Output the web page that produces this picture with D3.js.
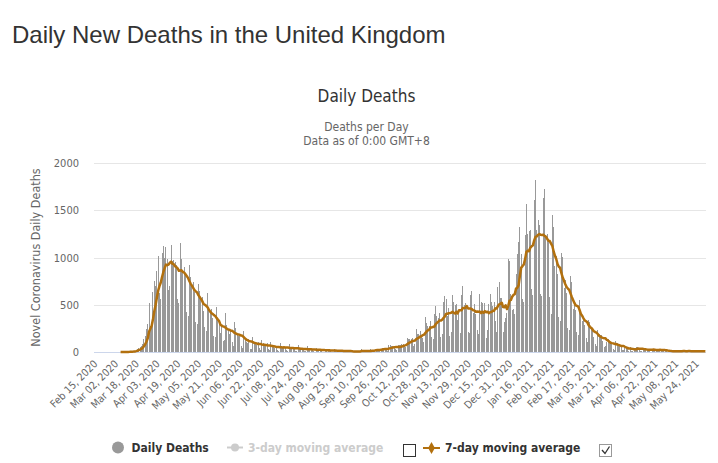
<!DOCTYPE html>
<html>
<head>
  <meta charset="utf-8">
  <title>Daily New Deaths in the United Kingdom</title>
  <style>
    body {
      margin: 0;
      padding: 0;
      background: #ffffff;
    }
    .page-title {
      font-family: 'Liberation Sans', Arial, sans-serif;
      font-size: 24px;
      fill: #333333;
    }
    .hc text {
      font-family: 'DejaVu Sans Condensed', 'DejaVu Sans', sans-serif;
      font-stretch: condensed;
    }
    .grid line {
      stroke: #e6e6e6;
    }
    .axis text {
      fill: #666666;
      font-size: 11px;
    }
    .bar {
      fill: #999999;
      shape-rendering: crispEdges;
    }
    .avg7 {
      fill: none;
      stroke: #b2700e;
      stroke-width: 2.5;
      stroke-linejoin: round;
    }
    .legend text {
      font-size: 12px;
      font-weight: bold;
    }
  </style>
</head>
<body>
  <div id="chart"></div>

  <script src="https://d3js.org/d3.v7.min.js"></script>
  <script>

  // daily deaths from Feb 15, 2020 to May 31, 2021, one row per week (Sat..Fri)
  var dailyDeaths = [
    0, 0, 0, 0, 0, 0, 0,
    0, 0, 0, 0, 0, 0, 0,
    0, 0, 0, 0, 0, 0, 1,
    1, 1, 1, 2, 2, 1, 2,
    5, 8, 10, 15, 25, 30, 40,
    50, 60, 80, 140, 170, 240, 300,
    520, 280, 290, 640, 750, 700, 860,
    1020, 620, 560, 1050, 1120, 990, 1110,
    980, 660, 700, 1130, 960, 970, 950,
    920, 560, 520, 1150, 980, 860, 900,
    800, 420, 380, 920, 790, 700, 740,
    640, 320, 300, 720, 650, 560, 580,
    430, 260, 220, 620, 480, 420, 460,
    360, 170, 160, 480, 360, 300, 200,
    280, 120, 130, 410, 290, 230, 190,
    210, 110, 60, 320, 250, 180, 170,
    180, 60, 40, 220, 150, 110, 100,
    140, 35, 30, 160, 110, 80, 70,
    110, 40, 20, 130, 90, 70, 60,
    90, 30, 20, 110, 70, 50, 40,
    60, 20, 15, 100, 60, 40, 50,
    50, 20, 10, 80, 50, 45, 40,
    40, 15, 10, 70, 40, 30, 30,
    30, 10, 8, 60, 35, 30, 25,
    25, 8, 5, 45, 30, 25, 20,
    20, 5, 4, 35, 25, 20, 15,
    15, 5, 3, 30, 15, 12, 10,
    12, 5, 3, 20, 12, 10, 10,
    12, 1, 1, 3, 3, 12, 10,
    12, 2, 3, 32, 8, 14, 6,
    9, 5, 9, 27, 20, 21, 21,
    27, 18, 11, 37, 37, 40, 40,
    34, 17, 13, 71, 71, 59, 66,
    49, 33, 19, 76, 70, 77, 87,
    81, 65, 50, 143, 137, 138, 136,
    150, 67, 80, 241, 191, 189, 224,
    174, 151, 102, 367, 310, 280, 274,
    326, 162, 136, 397, 492, 378, 355,
    413, 156, 194, 532, 595, 563, 376,
    462, 168, 213, 598, 529, 501, 511,
    341, 398, 206, 608, 696, 498, 521,
    479, 215, 205, 603, 648, 414, 504,
    397, 231, 189, 616, 533, 516, 424,
    519, 144, 232, 506, 612, 532, 489,
    534, 326, 215, 691, 744, 570, 570,
    210, 316, 357, 414, 981, 964, 613,
    445, 454, 407, 830, 1041, 1162, 1325,
    1035, 563, 529, 1243, 1564, 1248, 1280,
    1295, 671, 599, 1610, 1820, 1290, 1401,
    1348, 610, 592, 1631, 1725, 1239, 1245,
    1200, 587, 406, 1449, 1322, 915, 1014,
    828, 373, 333, 1052, 1001, 678, 758,
    621, 258, 230, 799, 738, 454, 533,
    445, 215, 178, 548, 442, 323, 345,
    290, 144, 104, 343, 315, 242, 236,
    158, 82, 65, 231, 190, 181, 175,
    121, 52, 64, 110, 141, 95, 101,
    96, 33, 17, 112, 98, 70, 63,
    58, 19, 23, 56, 45, 43, 10,
    58, 10, 9, 26, 45, 53, 52,
    40, 7, 13, 23, 22, 39, 34,
    32, 10, 4, 33, 29, 22, 18,
    32, 17, 11, 17, 29, 18, 15,
    15, 1, 1, 4, 13, 13, 6,
    10, 6, 4, 11, 9, 11, 17,
    7, 4, 3, 15, 9, 7, 10,
    4, 4, 6, 14, 9, 10, 10,
    6, 6, 1
  ]

  // x axis labels, one every 16 days starting at the first category
  var tickLabels = [
    "Feb 15, 2020", "Mar 02, 2020", "Mar 18, 2020", "Apr 03, 2020", "Apr 19, 2020",
    "May 05, 2020", "May 21, 2020", "Jun 06, 2020", "Jun 22, 2020", "Jul 08, 2020",
    "Jul 24, 2020", "Aug 09, 2020", "Aug 25, 2020", "Sep 10, 2020", "Sep 26, 2020",
    "Oct 12, 2020", "Oct 28, 2020", "Nov 13, 2020", "Nov 29, 2020", "Dec 15, 2020",
    "Dec 31, 2020", "Jan 16, 2021", "Feb 01, 2021", "Feb 17, 2021", "Mar 05, 2021",
    "Mar 21, 2021", "Apr 06, 2021", "Apr 22, 2021", "May 08, 2021", "May 24, 2021"
  ]

  var yTicks = [0, 500, 1000, 1500, 2000]

  // 7-day moving average (trailing), starting where reporting begins
  var avg7 = dailyDeaths.map(function (v, i) {
    if (i < 20) return null
    return d3.mean(dailyDeaths.slice(Math.max(0, i - 6), i + 1))
  })

  var width = 718,
      height = 463

  var plot = { left: 94, right: 706, top: 163, bottom: 352 }

  var svg = d3.select("#chart")
    .append("svg")
    .attr("width", width)
    .attr("height", height)

  // page heading above the chart
  svg.append("text")
    .attr("class", "page-title")
    .attr("x", 12)
    .attr("y", 43)
    .text("Daily New Deaths in the United Kingdom")

  var chart = svg.append("g").attr("class", "hc")

  // titles
  chart.append("text")
    .attr("x", 366.5)
    .attr("y", 102)
    .attr("text-anchor", "middle")
    .style("font-size", "17px")
    .style("fill", "#333333")
    .text("Daily Deaths")

  chart.append("text")
    .attr("x", 366.5)
    .attr("y", 131)
    .attr("text-anchor", "middle")
    .style("font-size", "12px")
    .style("fill", "#666666")
    .text("Deaths per Day")

  chart.append("text")
    .attr("x", 366.5)
    .attr("y", 145)
    .attr("text-anchor", "middle")
    .style("font-size", "12px")
    .style("fill", "#666666")
    .text("Data as of 0:00 GMT+8")

  // scales
  var x = d3.scaleBand()
    .domain(d3.range(dailyDeaths.length))
    .range([plot.left, plot.right])

  var y = d3.scaleLinear()
    .domain([0, 2000])
    .range([plot.bottom, plot.top])

  // horizontal grid lines
  chart.append("g")
    .attr("class", "grid")
    .selectAll("line")
    .data(yTicks.slice(1))
    .enter().append("line")
    .attr("x1", plot.left)
    .attr("x2", plot.right)
    .attr("y1", function (d) { return Math.round(y(d)) + 0.5 })
    .attr("y2", function (d) { return Math.round(y(d)) + 0.5 })

  // y axis labels
  var yAxis = chart.append("g")
    .attr("class", "axis")
    .attr("transform", "translate(" + plot.left + ",0)")
    .call(d3.axisLeft(y).tickValues(yTicks).tickSize(0).tickPadding(15)
      .tickFormat(d3.format("d")))
  yAxis.select(".domain").remove()

  chart.append("text")
    .attr("transform", "translate(40,257.5) rotate(-90)")
    .attr("text-anchor", "middle")
    .style("font-size", "12.5px")
    .style("fill", "#666666")
    .text("Novel Coronavirus Daily Deaths")

  // daily bars
  chart.append("g")
    .selectAll("rect")
    .data(dailyDeaths)
    .enter().append("rect")
    .attr("class", "bar")
    .attr("x", function (d, i) { return Math.round(x(i) + x.bandwidth() / 2 - 0.5) })
    .attr("width", 1)
    .attr("y", function (d) { return y(d) })
    .attr("height", function (d) { return plot.bottom - y(d) })

  // x axis baseline
  chart.append("line")
    .attr("x1", plot.left)
    .attr("x2", plot.right)
    .attr("y1", plot.bottom + 0.5)
    .attr("y2", plot.bottom + 0.5)
    .style("stroke", "#ccd6eb")

  // 7-day moving average line
  var line = d3.line()
    .defined(function (d) { return d !== null })
    .x(function (d, i) { return x(i) + x.bandwidth() / 2 })
    .y(function (d) { return y(d) })

  chart.append("path")
    .datum(avg7)
    .attr("class", "avg7")
    .attr("d", line)

  // x axis labels
  var tickIdx = tickLabels.map(function (d, i) { return i * 16 })
  var xAxis = chart.append("g")
    .attr("class", "axis")
    .attr("transform", "translate(0," + plot.bottom + ")")
    .call(d3.axisBottom(x).tickValues(tickIdx).tickSize(0)
      .tickFormat(function (d, i) { return tickLabels[i] }))
  xAxis.select(".domain").remove()
  xAxis.selectAll("text")
    .attr("x", 0)
    .attr("y", 0)
    .attr("dy", "0.35em")
    .attr("text-anchor", "end")
    .style("font-size", "10.5px")
    .attr("transform", "translate(1,10) rotate(-45)")

  // legend
  var legend = chart.append("g").attr("class", "legend")

  legend.append("circle")
    .attr("cx", 118)
    .attr("cy", 447.5)
    .attr("r", 6)
    .style("fill", "#999999")
  legend.append("text")
    .attr("x", 131.5)
    .attr("y", 452)
    .style("fill", "#333333")
    .text("Daily Deaths")

  legend.append("line")
    .attr("x1", 227).attr("x2", 243)
    .attr("y1", 447.5).attr("y2", 447.5)
    .style("stroke", "#cccccc")
    .style("stroke-width", 2)
  legend.append("circle")
    .attr("cx", 235)
    .attr("cy", 447.5)
    .attr("r", 4)
    .style("fill", "#cccccc")
  legend.append("text")
    .attr("x", 248)
    .attr("y", 452)
    .style("fill", "#cccccc")
    .text("3-day moving average")

  legend.append("rect")
    .attr("x", 403.5).attr("y", 444.5)
    .attr("width", 12).attr("height", 12)
    .style("fill", "#ffffff")
    .style("stroke", "#333333")

  legend.append("line")
    .attr("x1", 423).attr("x2", 440)
    .attr("y1", 448).attr("y2", 448)
    .style("stroke", "#b2700e")
    .style("stroke-width", 2)
  legend.append("path")
    .attr("d", d3.symbol(d3.symbolDiamond, 40)())
    .attr("transform", "translate(431.5,448)")
    .style("fill", "#b2700e")
  legend.append("text")
    .attr("x", 445)
    .attr("y", 452)
    .style("fill", "#333333")
    .text("7-day moving average")

  legend.append("rect")
    .attr("x", 599.5).attr("y", 444.5)
    .attr("width", 12).attr("height", 12)
    .style("fill", "#ffffff")
    .style("stroke", "#333333")
    .style("stroke-dasharray", "1,1")
  legend.append("path")
    .attr("d", "M602,450 L605,453.5 L609.5,446.5")
    .style("fill", "none")
    .style("stroke", "#333333")
    .style("stroke-width", 1.3)

  </script>
</body>
</html>
